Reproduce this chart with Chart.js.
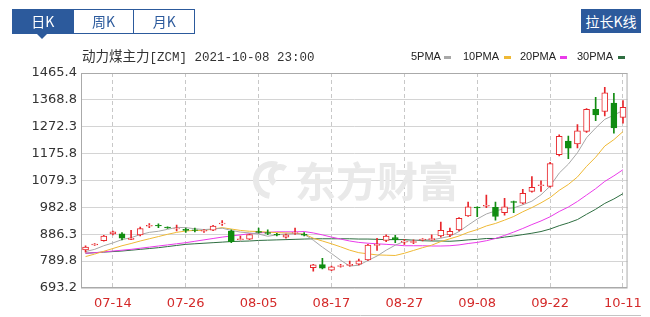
<!DOCTYPE html>
<html>
<head>
<meta charset="utf-8">
<script src="https://cdn.jsdelivr.net/npm/chart.js@4.4.0/dist/chart.umd.min.js"></script>
<style>
body { margin: 0; width: 650px; height: 317px; position: relative; background: #fff; overflow: hidden; font-family: "Noto Sans CJK SC", sans-serif; }
#kline { position: absolute; left: 0; top: 0; }
.tabs { position: absolute; left: 12px; top: 9px; width: 181px; height: 23px; border: 1px solid #2c5a9c; display: flex; }
.tab { flex: 1; text-align: center; line-height: 23px; font-size: 14px; color: #2c5a9c; border-left: 1px solid #2c5a9c; }
.tab.on { border-left: none; background: #2c5a9c; color: #fff; }
.arrow { position: absolute; left: 36px; top: 33px; width: 0; height: 0; border-left: 6px solid transparent; border-right: 6px solid transparent; border-top: 6px solid #2c5a9c; }
.btn { position: absolute; left: 581px; top: 9px; width: 60px; height: 24px; background: #2c5a9c; color: #fff; font-size: 14px; line-height: 24px; text-align: center; }
.title { position: absolute; left: 82px; top: 45px; font-size: 13.5px; color: #333; white-space: nowrap; }
.title .mono { font-family: "Liberation Mono", monospace; font-size: 12.5px; }
.lg { position: absolute; top: 50px; font-family: "Liberation Sans", sans-serif; font-size: 11px; color: #222; }
.mk { position: absolute; top: 56px; width: 7px; height: 3px; }
</style>
</head>
<body>
<canvas id="kline" width="650" height="317"></canvas>
<div class="tabs"><div class="tab on">日K</div><div class="tab">周K</div><div class="tab">月K</div></div>
<div class="arrow"></div>
<div class="btn">拉长K线</div>
<div class="title">动力煤主力<span class="mono">[ZCM] 2021-10-08 23:00</span></div>
<span class="lg" style="left:411px">5PMA</span><span class="mk" style="left:444px;background:#a8a8a8"></span>
<span class="lg" style="left:463px">10PMA</span><span class="mk" style="left:504px;background:#efb935"></span>
<span class="lg" style="left:520px">20PMA</span><span class="mk" style="left:560px;background:#ea3bea"></span>
<span class="lg" style="left:577px">30PMA</span><span class="mk" style="left:618px;background:#2e6e41"></span>
<script>
// 交易日
const dates = ['07-09','07-12','07-13','07-14','07-15','07-16','07-19','07-20','07-21','07-22',
  '07-23','07-26','07-27','07-28','07-29','07-30','08-02','08-03','08-04','08-05',
  '08-06','08-09','08-10','08-11','08-12','08-13','08-16','08-17','08-18','08-19',
  '08-20','08-23','08-24','08-25','08-26','08-27','08-30','08-31','09-01','09-02',
  '09-03','09-06','09-07','09-08','09-09','09-10','09-13','09-14','09-15','09-16',
  '09-17','09-22','09-23','09-24','09-27','09-28','09-29','09-30','10-08','10-11'];
const shownDates = ['07-14','07-26','08-05','08-17','08-27','09-08','09-22','10-11'];

const openP = [830,848,863,887,888,868,884,915,918,912, 905,904,902,897,901,923,898,867,869,896,
  892,886,876,890,886,766,777,757,771,774, 779,794,846,864,874,858,857,866,866,880,
  884,902,952,984,987,983,964,1004,998,1040, 1061,1058,1172,1221,1211,1256,1335,1327,1357,1306];
const closeP = [840,851,880,895,872,872,907,918,916,909, 907,900,900,900,916,926,860,870,885,893,
  889,884,884,892,883,776,764,769,774,778, 791,847,850,880,867,861,860,869,871,900,
  897,943,985,981,990,950,985,1001,1033,1055, 1064,1140,1238,1195,1258,1335,1315,1394,1268,1342];
const highP = [845,853,882,898,892,900,912,925,924,913, 919,908,908,903,918,935,902,880,887,908,
  902,890,887,908,892,778,800,772,778,790, 797,850,872,884,882,868,866,871,884,930,
  908,946,1002,985,1027,1002,1015,1005,1048,1093, 1078,1145,1243,1239,1280,1338,1378,1414,1392,1366];
const lowP = [822,846,861,884,866,867,880,910,910,907, 898,893,895,893,899,918,856,866,867,890,
  885,880,872,886,880,754,762,755,768,772, 776,792,828,860,856,850,852,862,864,876,
  878,898,950,949,982,937,955,964,995,1037, 1040,1055,1168,1158,1196,1252,1294,1311,1249,1285];

const ma5 = [824,832,845,855,867,874,885,893,897,904, 911,910,906,903,905,908,900,894,891,887,
  879,884,887,888,886,865,840,817,793,772, 775,792,808,829,847,861,864,867,866,872,
  879,896,919,941,959,970,978,981,992,1005, 1028,1059,1106,1138,1179,1233,1268,1299,1314,1331];
const ma10 = [806,815,825,835,845,853,862,870,878,886, 893,898,900,900,905,910,905,900,897,896,
  894,892,891,890,887,872,862,852,841,829, 820,816,812,811,810,818,828,838,847,860,
  870,880,893,903,916,925,937,950,967,982, 999,1018,1044,1065,1092,1130,1163,1203,1226,1255];
const ma20 = [818,820,823,826,829,832,836,840,844,848, 852,856,861,866,871,876,880,884,888,891,
  893,895,895,895,896,891,884,876,869,862, 857,854,852,850,848,845,845,845,844,844,
  845,848,853,857,863,871,882,894,907,921, 934,949,968,984,1004,1027,1050,1076,1096,1118];
const ma30 = [818,820,822,824,826,829,832,835,838,842, 846,850,852,854,856,858,860,861,862,864,
  865,866,867,868,869,870,870,870,870,870, 869,869,868,867,867,867,865,863,862,862,
  861,863,866,868,871,871,876,880,885,890, 896,905,917,927,939,958,976,997,1013,1032];

const yTicks = [693.2, 789.8, 886.3, 982.8, 1079.3, 1175.8, 1272.3, 1368.8, 1465.4];

const RED = '#e8262b';
const GREEN = '#118c11';
const upColors = closeP.map((c, i) => c >= openP[i] ? RED : GREEN);
const bodyFill = closeP.map((c, i) => c >= openP[i] ? '#ffffff' : GREEN);

const framePlugin = {
  id: 'frame',
  beforeDatasetsDraw(chart) {
    const ctx = chart.ctx;
    ctx.save();
    // 水印
    ctx.fillStyle = '#e9e9e9';
    ctx.font = 'bold 41px "Noto Sans CJK SC"';
    ctx.textBaseline = 'alphabetic';
    ctx.fillText('东方财富', 295, 197);
    ctx.strokeStyle = '#e9e9e9';
    ctx.lineWidth = 6;
    ctx.beginPath();
    ctx.arc(272, 180, 16, Math.PI * 0.55, Math.PI * 1.6);
    ctx.stroke();
    ctx.beginPath();
    ctx.arc(280, 176, 9, Math.PI * 0.7, Math.PI * 1.7);
    ctx.stroke();
    ctx.restore();
  },
  afterDraw(chart) {
    const { ctx, chartArea: a } = chart;
    ctx.save();
    ctx.strokeStyle = '#aaaaaa';
    ctx.lineWidth = 1;
    ctx.strokeRect(a.left + 0.5, a.top + 0.5, a.right - a.left - 1, a.bottom - a.top - 1);
    ctx.strokeStyle = '#c4c4c4';
    ctx.beginPath();
    ctx.moveTo(80, 315.5);
    ctx.lineTo(641, 315.5);
    ctx.stroke();
    ctx.restore();
  }
};

const lineDs = (data, color) => ({
  type: 'line', data: data, borderColor: color, borderWidth: 1,
  pointRadius: 0, tension: 0, fill: false, order: 5
});

new Chart(document.getElementById('kline').getContext('2d'), {
  type: 'bar',
  data: {
    labels: dates,
    datasets: [
      lineDs(ma5, '#a8a8a8'),
      lineDs(ma10, '#efb935'),
      lineDs(ma20, '#ea3bea'),
      lineDs(ma30, '#2e6e41'),
      {
        data: dates.map((d, i) => [lowP[i], highP[i]]),
        backgroundColor: upColors, barThickness: 1, grouped: false, order: 2
      },
      {
        data: dates.map((d, i) => [openP[i], closeP[i]]),
        backgroundColor: bodyFill, borderColor: upColors, borderWidth: 1,
        borderSkipped: false, barThickness: 6, grouped: false, order: 1
      }
    ]
  },
  options: {
    responsive: false,
    animation: false,
    layout: { padding: { top: 73, right: 15, left: 0, bottom: 0 } },
    plugins: { legend: { display: false }, tooltip: { enabled: false } },
    scales: {
      x: {
        grid: {
          offset: false, drawTicks: false,
          color: c => shownDates.includes(dates[c.index]) ? '#c8c8c8' : 'rgba(0,0,0,0)'
        },
        border: { display: false, dash: [4, 3] },
        ticks: {
          autoSkip: false, maxRotation: 0, padding: 8, color: '#d42a2a',
          font: { family: 'DejaVu Sans', size: 13 },
          callback: (v, i) => shownDates.includes(dates[i]) ? dates[i] : ''
        },
        afterFit: s => { s.height = 29; }
      },
      y: {
        min: 693.2, max: 1465.4,
        afterBuildTicks: s => { s.ticks = yTicks.map(v => ({ value: v })); },
        grid: { color: '#d4d4d4', drawTicks: false },
        border: { display: false },
        ticks: {
          padding: 4, color: '#333',
          font: { family: 'DejaVu Sans', size: 13 },
          callback: v => v.toFixed(1)
        },
        afterFit: s => { s.width = 81; }
      }
    }
  },
  plugins: [framePlugin]
});
</script>
</body>
</html>
